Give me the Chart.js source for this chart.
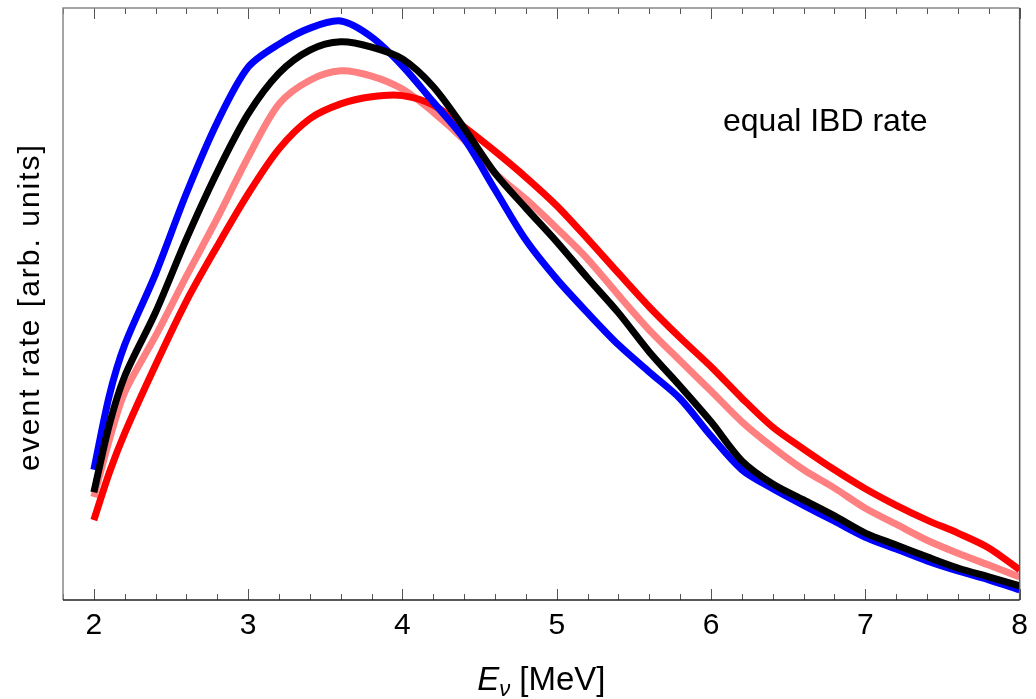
<!DOCTYPE html>
<html>
<head>
<meta charset="utf-8">
<title>event rate</title>
<script src="https://cdn.jsdelivr.net/npm/chart.js@4.4.0/dist/chart.umd.min.js"></script>
<style>
  body { margin: 0; background: #fff; }
  #chart { display: block; }
</style>
</head>
<body>
<canvas id="chart" width="1036" height="699"></canvas>
<script>
'use strict';

var energy    = [2.0, 2.1, 2.2, 2.4, 2.6, 2.8, 3.0, 3.2, 3.4, 3.6, 3.8, 4.0, 4.2, 4.4, 4.6, 4.8,
                 5.0, 5.2, 5.4, 5.6, 5.8, 6.0, 6.2, 6.4, 6.6, 6.8, 7.0, 7.2, 7.4, 7.6, 7.8, 8.0];
var rateBlue  = [22.0, 34.5, 43.1, 55.1, 68.7, 80.7, 90.0, 93.9, 96.6, 97.8, 95.1, 90.2, 84.1, 77.9, 69.3, 60.8,
                 54.2, 48.5, 43.1, 38.5, 34.0, 27.7, 22.0, 18.8, 16.0, 13.3, 10.6, 8.6, 6.6, 4.9, 3.4, 1.7];
var rateBlack = [18.2, 29.6, 37.8, 48.6, 61.0, 72.3, 82.1, 89.0, 92.9, 94.3, 93.4, 91.4, 86.7, 79.7, 72.1, 66.2,
                 60.5, 54.4, 48.5, 41.9, 36.1, 30.1, 23.5, 19.6, 16.9, 14.2, 11.3, 9.3, 7.3, 5.4, 3.9, 2.4];
var ratePink  = [17.4, 27.0, 35.1, 44.6, 54.7, 64.5, 74.8, 83.8, 87.8, 89.4, 88.5, 86.3, 82.4, 77.7, 72.1, 67.7,
                 62.8, 57.6, 51.5, 45.6, 40.4, 35.3, 30.1, 25.8, 22.0, 18.9, 15.5, 12.8, 10.1, 7.9, 5.9, 3.9];
var rateRed   = [13.5, 21.5, 28.2, 39.7, 50.5, 59.8, 68.6, 76.2, 81.3, 83.8, 85.0, 85.2, 83.6, 79.9, 75.8, 71.4,
                 66.6, 61.0, 55.2, 49.5, 44.3, 39.4, 34.1, 29.2, 25.5, 22.0, 18.8, 16.0, 13.5, 11.3, 8.8, 5.1];

var xTickLabels = [2, 3, 4, 5, 6, 7, 8];
var minorStep = 0.2;
var noteText = 'equal IBD rate';
var yTitle = 'event rate [arb. units]';

var fontFamily = '"Liberation Sans", Arial, Helvetica, sans-serif';

function toPoints(values) {
  return values.map(function (v, i) {
    return { x: energy[i], y: v };
  });
}

function lineSet(values, color) {
  return {
    data: toPoints(values),
    borderColor: color,
    borderWidth: 7,
    borderCapStyle: 'butt',
    borderJoinStyle: 'round',
    pointRadius: 0,
    tension: 0.3,
    fill: false
  };
}

// frame, inward ticks and the texts that Chart.js can't style itself
var decorations = {
  id: 'decorations',
  afterDatasetsDraw: function (chart) {
    let ctx = chart.ctx;
    let a = chart.chartArea;
    let xs = chart.scales.x;
    ctx.save();

    ctx.lineWidth = 1;
    ctx.strokeStyle = '#555';
    for (let k = 0; ; k++) {
      let v = Math.round((xs.min + k * minorStep) * 10) / 10;
      if (v > xs.max + 1e-9) break;
      let major = Math.abs(v - Math.round(v)) < 1e-6;
      let len = major ? 11 : 6;
      let px = Math.round(xs.getPixelForValue(v)) + 0.5;
      ctx.beginPath();
      ctx.moveTo(px, a.bottom);
      ctx.lineTo(px, a.bottom - len);
      ctx.moveTo(px, a.top);
      ctx.lineTo(px, a.top + len);
      ctx.stroke();
    }

    ctx.lineWidth = 1.5;
    ctx.strokeStyle = '#888';
    ctx.beginPath();
    ctx.moveTo(a.left, a.bottom);
    ctx.lineTo(a.left, a.top);
    ctx.lineTo(a.right, a.top);
    ctx.stroke();
    ctx.strokeStyle = '#555';
    ctx.beginPath();
    ctx.moveTo(a.right, a.top);
    ctx.lineTo(a.right, a.bottom);
    ctx.stroke();
    ctx.strokeStyle = '#222';
    ctx.beginPath();
    ctx.moveTo(a.left, a.bottom);
    ctx.lineTo(a.right, a.bottom);
    ctx.stroke();

    ctx.fillStyle = '#000';
    ctx.textAlign = 'left';
    ctx.textBaseline = 'alphabetic';
    ctx.font = '32px ' + fontFamily;
    ctx.fillText(noteText, a.left + 660, a.top + 123);

    // x title: italic E with subscript nu
    let mid = (a.left + a.right) / 2;
    let base = 690;
    ctx.font = 'italic 33px ' + fontFamily;
    let wE = ctx.measureText('E').width;
    ctx.font = 'italic 22px ' + fontFamily;
    let wNu = ctx.measureText('\u03bd').width;
    ctx.font = '33px ' + fontFamily;
    let wRest = ctx.measureText(' [MeV]').width;
    let x0 = mid - (wE + wNu + wRest) / 2;
    ctx.font = 'italic 33px ' + fontFamily;
    ctx.fillText('E', x0, base);
    ctx.font = 'italic 22px ' + fontFamily;
    ctx.fillText('\u03bd', x0 + wE, base + 6);
    ctx.font = '33px ' + fontFamily;
    ctx.fillText(' [MeV]', x0 + wE + wNu, base);

    // y title
    ctx.translate(31, (a.top + a.bottom) / 2 + 3);
    ctx.rotate(-Math.PI / 2);
    ctx.textAlign = 'center';
    ctx.textBaseline = 'middle';
    ctx.font = '30px ' + fontFamily;
    if ('letterSpacing' in ctx) ctx.letterSpacing = '2px';
    ctx.fillText(yTitle, 0, 0);

    ctx.restore();
  }
};

var ctx = document.getElementById('chart');

new Chart(ctx, {
  type: 'line',
  data: {
    datasets: [
      lineSet(rateBlack, '#000000'),
      lineSet(rateBlue, '#0000ff'),
      lineSet(rateRed, '#ff0000'),
      lineSet(ratePink, '#ff8080')
    ]
  },
  options: {
    responsive: false,
    devicePixelRatio: 1,
    animation: false,
    layout: { padding: { top: 8, right: 15, left: 0, bottom: 0 } },
    plugins: {
      legend: { display: false },
      tooltip: { enabled: false }
    },
    scales: {
      x: {
        type: 'linear',
        min: 1.8,
        max: 8,
        afterBuildTicks: function (scale) {
          scale.ticks = xTickLabels.map(function (v) { return { value: v }; });
        },
        afterFit: function (scale) { scale.height = 99; },
        grid: { display: false, drawTicks: false },
        border: { display: false },
        ticks: {
          font: { family: fontFamily, size: 30 },
          color: '#000',
          padding: 8,
          maxRotation: 0,
          autoSkip: false
        }
      },
      y: {
        min: 0,
        max: 100,
        afterFit: function (scale) { scale.width = 63; },
        grid: { display: false, drawTicks: false },
        border: { display: false },
        ticks: { display: false }
      }
    }
  },
  plugins: [decorations]
});
</script>
</body>
</html>
